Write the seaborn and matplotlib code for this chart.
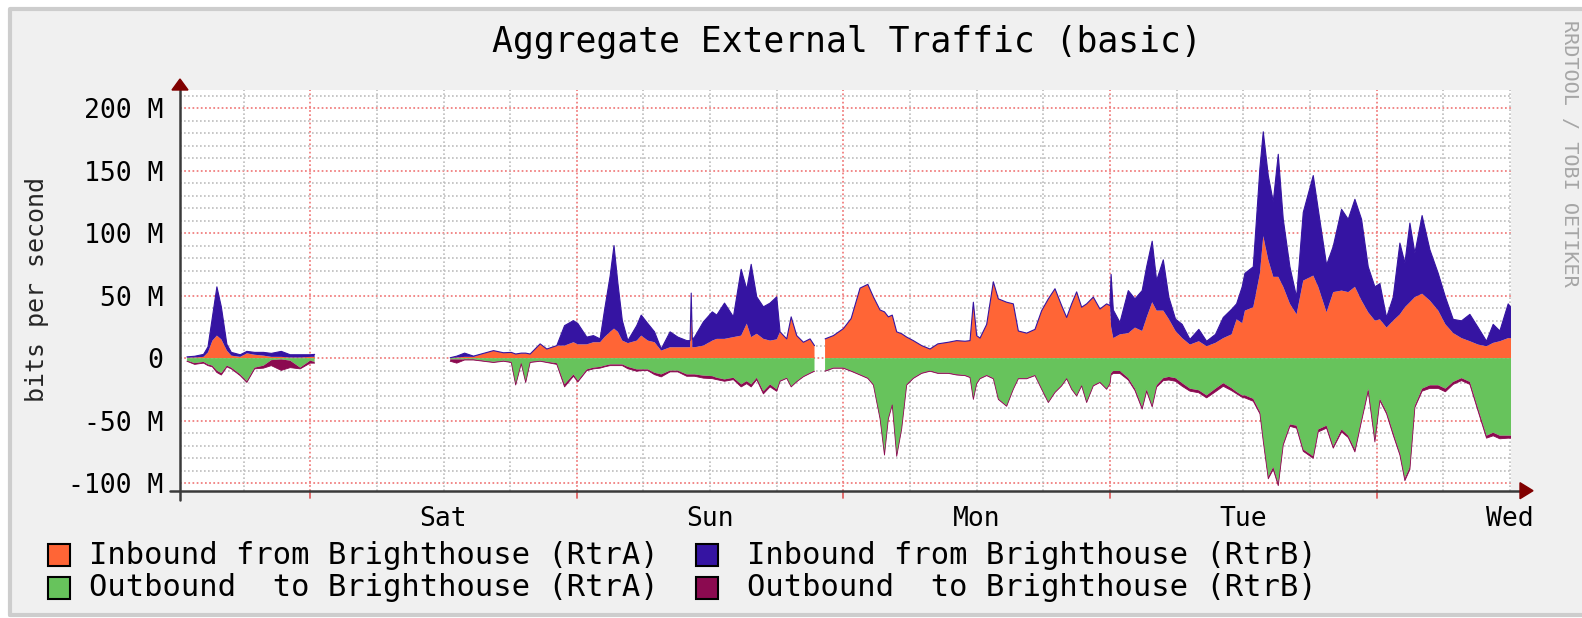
import numpy as np
import pandas as pd
import matplotlib
matplotlib.use("Agg")
import matplotlib.pyplot as plt
import seaborn as sns
from matplotlib.patches import Rectangle, Polygon
from matplotlib.lines import Line2D

NAN = float("nan")

# hours since Friday 00:00 (NaN rows mark the gaps in the data)
hours = [
    0.9, 1.6, 2.4, 2.8, 3.2, 3.6, 4.0, 4.5, 4.9, 5.7, 6.3, 7.0, 7.8, 8.5, 9.4, 10.2, 11.1, 12.0, 12.4,
    18.0,
    24.6, 25.2, 25.9, 26.7, 27.6, 28.5, 29.4, 30.1, 30.5, 31.0,
    31.4, 31.8, 32.7, 33.3, 34.2, 34.9, 35.7, 36.1, 36.9, 37.5,
    38.1, 38.5, 39.0, 39.35, 39.7, 40.1, 40.6, 41.4, 41.8, 42.4,
    43.0, 43.6, 44.4, 45.1, 45.9, 46.2, 46.3, 46.4, 46.6, 47.4,
    48.2, 48.6, 49.3, 50.1, 50.8, 51.3, 51.7, 52.2, 52.8, 53.4,
    54.0, 54.3, 54.9, 55.3, 55.8, 56.4, 57.0, 57.4,
    57.8,
    58.35, 59.1, 60.0, 60.7, 61.5, 62.2, 62.7, 63.3, 63.7, 64.05,
    64.4, 64.8, 65.25, 65.7, 66.3, 67.05, 67.8, 68.5, 69.45, 70.2,
    70.95, 71.4, 71.7, 72.0, 72.3, 72.9, 73.5, 73.95, 74.7, 75.3,
    75.75, 76.5, 77.25, 77.85, 78.45, 79.05, 79.65, 80.1, 80.55, 81.0,
    81.45, 81.9, 82.5, 83.1, 83.7, 84.0, 84.1, 84.3, 84.9, 85.65,
    86.25, 86.9, 87.3, 87.8, 88.2, 88.8, 89.3, 89.9, 90.5, 91.2,
    92.0, 92.7, 93.5, 94.2, 94.95, 95.4, 95.9, 96.15, 96.9, 97.5,
    97.8, 98.25, 98.7, 99.15, 99.6, 100.2, 100.8, 101.4, 102.3, 102.75,
    103.5, 104.1, 104.85, 105.45, 106.05, 106.65, 107.25, 107.85, 108.3, 108.9,
    109.5, 110.1, 110.55, 111.0, 111.45, 112.1, 112.8, 113.55, 114.2, 114.9,
    115.65, 116.4, 117.15, 117.9, 118.5, 119.1, 119.85, 120.15,
]

# Inbound from Brighthouse (RtrA), Mbit/s
inbound_rtra = [
    0.5, 0.5, 1, 4.6, 14, 18, 15, 6, 2, 1, 3.8, 2.7, 2, 1, 1, 0.5, 0.5, 1, 1,
    NAN,
    0.3, 0.5, 1, 1, 3.8, 6, 4.3, 4.6, 3.3, 4,
    4, 3.3, 11.4, 7.3, 10, 10, 12.7, 11, 11, 12.7,
    12.7, 16.8, 21, 23.6, 21, 14, 12, 14, 18, 14,
    12.7, 6, 8.7, 8.7, 8.7, 8.7, 50, 8.7, 8.7, 10,
    14, 15.4, 15.4, 16.8, 18, 27.6, 16.8, 19.5, 15.4, 14,
    15, 21, 15.4, 33, 18, 12.7, 15.4, 10,
    NAN,
    15.4, 18, 23.6, 31.7, 56, 59, 49, 38.5, 37, 33,
    34.4, 21, 19.5, 16.8, 14, 10, 7.3, 11.4, 12.7, 14,
    13.5, 14, 44.7, 18, 16, 27, 61, 47.4, 44.7, 43.4,
    21.7, 20, 23, 38, 47.4, 55.5, 42, 32.5, 43.4, 53,
    40.7, 43.4, 48.8, 39.3, 43.4, 42, 25, 16, 19, 20,
    24.4, 21.7, 32.5, 44.7, 38, 38, 31.2, 21.7, 16, 10.8,
    13.5, 9.5, 12.2, 16, 19, 31, 28, 38, 40.7, 67.8,
    97.6, 78.6, 65, 65, 57, 43.4, 35, 62, 66, 57,
    36.6, 52.8, 54, 52.8, 57, 46, 36.6, 30, 31, 24.4,
    30, 35, 40.7, 44.7, 48.8, 51.5, 46, 38, 27, 20,
    16, 13.5, 10.8, 9.5, 12.2, 13.5, 16, 16,
]

# Inbound from Brighthouse (RtrB), stacked on RtrA
inbound_rtrb = [
    0.5, 1, 2, 4.4, 19, 39, 26, 5, 2.6, 1.7, 1.6, 1.9, 2.6, 2.8, 4.4, 2.2, 2.2, 1.7, 2,
    NAN,
    0, 1.1, 3, 0.6, 0, 0, 0, 0, 0, 0,
    0, 0, 0, 0, 0, 16, 17.3, 16.6, 5.8, 5.3,
    2.7, 21.7, 44.6, 66.4, 39, 16, 2, 12, 16.4, 13.6,
    8.3, 1.3, 12.3, 8.1, 5.3, 5.3, 2, 6.3, 8.1, 19,
    23, 19, 28.6, 16.2, 53, 27.4, 58.2, 29.5, 25.6, 30,
    34, 0, 0, 0, 0, 0, 0, 0,
    NAN,
    0, 0, 0, 0, 0, 0, 0, 0, 0, 0,
    0, 0, 0, 0, 0, 0, 0, 0, 0, 0,
    0, 0, 0, 0, 0, 0, 0, 0, 0, 0,
    0, 0, 0, 0, 0, 0, 0, 0, 0, 0,
    0, 0, 0, 0, 0, 0, 42, 22.5, 9.5, 34,
    23, 32.3, 40.5, 48.8, 24, 40.6, 17.6, 9.5, 11, 4.2,
    9.5, 4, 6.8, 16.5, 20, 12.4, 29, 29.8, 32.3, 84.2,
    83.4, 67.4, 60, 98, 54, 29.6, 13.8, 54.5, 80, 62,
    37.9, 36.6, 65, 58.2, 70, 65, 36.4, 27, 28.6, 8.1,
    18.8, 57, 35.3, 63.3, 35.2, 62.5, 40.7, 29.8, 21.8, 11,
    13.8, 21.5, 13.6, 4, 14.8, 8.2, 27.4, 24,
]

# Outbound to Brighthouse (RtrA), magnitude (drawn below zero)
outbound_rtra = [
    2, 4, 3, 5, 6, 10, 12, 6, 7.6, 13, 18.4, 7.6, 6, 1.6, 1, 2, 7.6, 2, 3,
    NAN,
    1, 1, 1, 1, 2, 3, 2, 3, 21, 4,
    19, 3, 2, 3, 4, 21, 13, 18, 9, 7.6,
    7, 6, 5, 5, 5, 5, 7, 9, 9, 9,
    11.7, 13, 10, 10, 13, 13, 13, 13, 13, 14,
    14.4, 15.7, 17, 15.7, 21, 18.4, 21, 15.7, 26.6, 21,
    25, 18, 15.7, 22.5, 18.4, 14.4, 11.7, 10,
    NAN,
    10, 7.6, 7.6, 10, 13, 15.7, 21, 48, 77, 48,
    37, 78, 56, 21, 15.7, 11.7, 10, 11.7, 11.7, 13,
    13.5, 15, 32.5, 20, 16, 13.5, 16, 32.5, 38, 24.4,
    16, 16, 13.5, 24.4, 35, 27, 21.7, 16, 24.4, 29.8,
    21.7, 35, 21.7, 19, 24.4, 20, 12, 10.3, 10.3, 16,
    24.4, 39.3, 25, 38, 21.7, 16, 15, 16, 20, 24.4,
    25.7, 29.8, 24.4, 20, 24, 27, 29.8, 29.8, 32.5, 43,
    65, 95, 87, 100, 68, 53, 54, 73, 78.6, 57,
    54, 70.5, 57, 62, 73, 48.8, 24.4, 65, 32.5, 43,
    59.6, 76, 96, 87, 38, 24.4, 21.7, 21.7, 24.4, 19,
    16, 19, 40.7, 62, 59.6, 62, 62, 62,
]

# Outbound to Brighthouse (RtrB), magnitude stacked below RtrA
outbound_rtrb = [
    0.5, 1, 1, 1, 1, 1.5, 1.5, 1, 1, 1, 1, 1, 2, 4.4, 8.8, 5.6, 1, 2, 1,
    NAN,
    1.5, 3, 0.5, 0.5, 0.5, 0.5, 0.5, 0.5, 0.5, 0.5,
    0.5, 0.5, 0.5, 0.5, 1, 2, 1.5, 1, 1, 1,
    1, 1, 1, 1, 1, 1, 1.5, 1.5, 1, 1,
    1.5, 2, 1, 1, 1.5, 1.5, 1.5, 1.5, 1.5, 2,
    2, 1.5, 1.5, 1.5, 2, 2, 2, 1.5, 2, 2,
    1.5, 0.5, 0.5, 0.5, 0.5, 0.5, 0.5, 0.5,
    NAN,
    0.5, 0.5, 0.5, 0.5, 0.5, 0.5, 0.5, 0.5, 0.5, 0.5,
    0.5, 0.5, 0.5, 0.5, 0.5, 0.5, 0.5, 0.5, 0.5, 0.5,
    0.5, 0.5, 0.5, 0.5, 0.5, 0.5, 0.5, 0.5, 0.5, 0.5,
    0.5, 0.5, 0.5, 0.5, 0.5, 0.5, 0.5, 0.5, 0.5, 0.5,
    0.5, 0.5, 0.5, 0.5, 0.5, 0.5, 1.5, 2, 2, 1.5,
    1.5, 1.5, 1.5, 1, 1.5, 2, 2.5, 2.5, 2.5, 2,
    2, 2, 2.5, 2.5, 2, 1.5, 1.5, 2, 2, 1.5,
    1.5, 1.5, 2, 2, 1.5, 1.5, 2, 1.5, 1.5, 2,
    2, 1.5, 2, 1.5, 2, 1.5, 2, 2, 1.5, 1.5,
    2, 1.5, 2, 2, 1.5, 2, 2.5, 2.5, 2.5, 2,
    2, 2, 2, 2, 2.5, 2.5, 2, 2,
]

day_hours = [24, 48, 72, 96, 120]
day_labels = ["Sat", "Sun", "Mon", "Tue", "Wed"]
y_ticks = [-100, -50, 0, 50, 100, 150, 200]
y_tick_labels = ["-100 M", "-50 M", "0", "50 M", "100 M", "150 M", "200 M"]
legend_labels = ["Inbound from Brighthouse (RtrA)", "Inbound from Brighthouse (RtrB)",
                 "Outbound  to Brighthouse (RtrA)", "Outbound  to Brighthouse (RtrB)"]
title = "Aggregate External Traffic (basic)"
y_label = "bits per second"
watermark = "RRDTOOL / TOBI OETIKER"

C_IN_A = "#FF6536"
C_IN_B = "#3514A2"
C_OUT_A = "#67C35C"
C_OUT_B = "#8B0A50"

sns.set_style("white")
plt.rcParams["font.family"] = ["DejaVu Sans Mono"]

W, H = 1582, 618
fig = plt.figure(figsize=(W / 100, H / 100), dpi=100, facecolor="white")

# outer frame: grey fill, border on the top, left and bottom sides only
fig.patches.append(Rectangle((10 / W, 3 / H), 1.0, (615 - 9) / H, transform=fig.transFigure,
                             facecolor="#f0f0f0", edgecolor="none", zorder=-5))
fig.add_artist(Line2D([10 / W, 10 / W, 1.0], [3 / H, 1 - 9 / H, 1 - 9 / H],
                      transform=fig.transFigure, color="#cdcdcd", lw=3, zorder=-4))
fig.add_artist(Line2D([10 / W, 1.0], [3 / H, 3 / H],
                      transform=fig.transFigure, color="#cdcdcd", lw=3, zorder=-4))

left_px, right_px, top_px, bot_px = 180, 1511, 90, 490.7
ax = fig.add_axes([left_px / W, 1 - bot_px / H, (right_px - left_px) / W, (bot_px - top_px) / H])
ax.set_zorder(1)
ax.set_facecolor("white")
for s in ax.spines.values():
    s.set_visible(False)

x0 = (left_px - 443.5) / 11.108 + 24
x1 = (right_px - 443.5) / 11.108 + 24
ax.set_xlim(x0, x1)
ax.set_ylim(-106, 214.4)

# grid (fine dotted, like rrdtool)
dots = (0, (1.0, 1.4))
for v in range(-100, 211, 10):
    if v % 50 == 0:
        ax.axhline(v, color="#f07a7a", lw=1.25, ls=dots, zorder=1)
    else:
        ax.axhline(v, color="#bdbdbd", lw=1.2, ls=dots, zorder=1)
for hv in range(6, 121, 6):
    if hv % 24 == 12:
        ax.axvline(hv, color="#f07a7a", lw=1.25, ls=dots, zorder=1)
    else:
        ax.axvline(hv, color="#bdbdbd", lw=1.2, ls=dots, zorder=1)

df = pd.DataFrame({"h": hours, "ia": inbound_rtra, "ib": inbound_rtrb,
                   "oa": outbound_rtra, "ob": outbound_rtrb})
df["in_top"] = df["ia"] + df["ib"]
df["out_a"] = -df["oa"]
df["out_bot"] = -(df["oa"] + df["ob"])
df["seg"] = df["ia"].isna().cumsum()

x = df["h"].to_numpy()
ax.fill_between(x, 0, df["ia"], color=C_IN_A, lw=0, zorder=3)
ax.fill_between(x, df["ia"], df["in_top"], color=C_IN_B, lw=0, zorder=3)
ax.fill_between(x, 0, df["out_a"], color=C_OUT_A, lw=0, zorder=3)
ax.fill_between(x, df["out_a"], df["out_bot"], color=C_OUT_B, lw=0, zorder=3)

d = df.dropna()
sns.lineplot(data=d, x="h", y="in_top", units="seg", estimator=None, color=C_IN_B,
             lw=0.8, ax=ax, legend=False, zorder=3.5)
sns.lineplot(data=d, x="h", y="out_bot", units="seg", estimator=None, color=C_OUT_B,
             lw=0.6, ax=ax, legend=False, zorder=3.5)
ax.set_xlabel("")
ax.set_ylabel("")

# ticks
ax.set_yticks(y_ticks, labels=y_tick_labels)
ax.set_yticks(list(range(-100, 211, 10)), minor=True)
ax.tick_params(axis="y", which="major", length=0, pad=12, labelsize=19, colors="black")
ax.tick_params(axis="y", which="minor", length=5, width=1.2, direction="inout", color="#555555")
ax.set_xticks(day_hours, labels=day_labels)
ax.xaxis.remove_overlapping_locs = False
ax.set_xticks(list(range(6, 121, 6)), minor=True)
ax.tick_params(axis="x", which="major", length=0, pad=11, labelsize=19, colors="black")
ax.tick_params(axis="x", which="minor", length=5, width=1.2, direction="inout", color="#888888")
for hv in range(12, 121, 24):
    ax.plot([hv, hv], [0, -0.018], transform=ax.get_xaxis_transform(), color="#e06060",
            lw=1.3, clip_on=False, zorder=4)

# axis lines with arrows
ah = bot_px - top_px
aw = right_px - left_px
ax.add_line(Line2D([0, 0], [-(500 - bot_px) / ah, 1.0], transform=ax.transAxes,
                   color="#3a3a3a", lw=1.8, clip_on=False, zorder=5))
ax.add_line(Line2D([-(left_px - 170) / aw, (1520 - left_px) / aw], [0, 0], transform=ax.transAxes,
                   color="#3a3a3a", lw=1.8, clip_on=False, zorder=5))
ax.add_patch(Polygon([[-8 / aw, 1.0], [8 / aw, 1.0], [0, 1 + 11 / ah]], closed=True,
                     transform=ax.transAxes, color="#800000", clip_on=False, zorder=6))
ax.add_patch(Polygon([[(1520 - left_px) / aw, 8 / ah], [(1520 - left_px) / aw, -8 / ah],
                      [(1533 - left_px) / aw, 0]], closed=True,
                     transform=ax.transAxes, color="#800000", clip_on=False, zorder=6))

# texts
fig.text(847 / W, 1 - 42 / H, title, ha="center", va="center", fontsize=25, color="black")
fig.text(37 / W, 1 - 290 / H, y_label, rotation=90, ha="center", va="center", fontsize=18)
fig.text(1569 / W, 1 - 20 / H, watermark, rotation=270, ha="center", va="top",
         fontsize=14.5, color="#a6a6a6")

# legend
colors = [C_IN_A, C_IN_B, C_OUT_A, C_OUT_B]
box_x = [48, 696, 48, 696]
txt_x = [89, 747, 89, 747]
row_y = [555, 555, 588, 588]
for lab, c, bx, tx, ry in zip(legend_labels, colors, box_x, txt_x, row_y):
    fig.patches.append(Rectangle((bx / W, 1 - (ry + 11) / H), 22 / W, 22 / H,
                                 transform=fig.transFigure, facecolor=c,
                                 edgecolor="black", linewidth=1.5, zorder=3))
    fig.text(tx / W, 1 - ry / H, lab, ha="left", va="center", fontsize=22, color="black")

fig.savefig("out.png", dpi=100, facecolor=fig.get_facecolor())
